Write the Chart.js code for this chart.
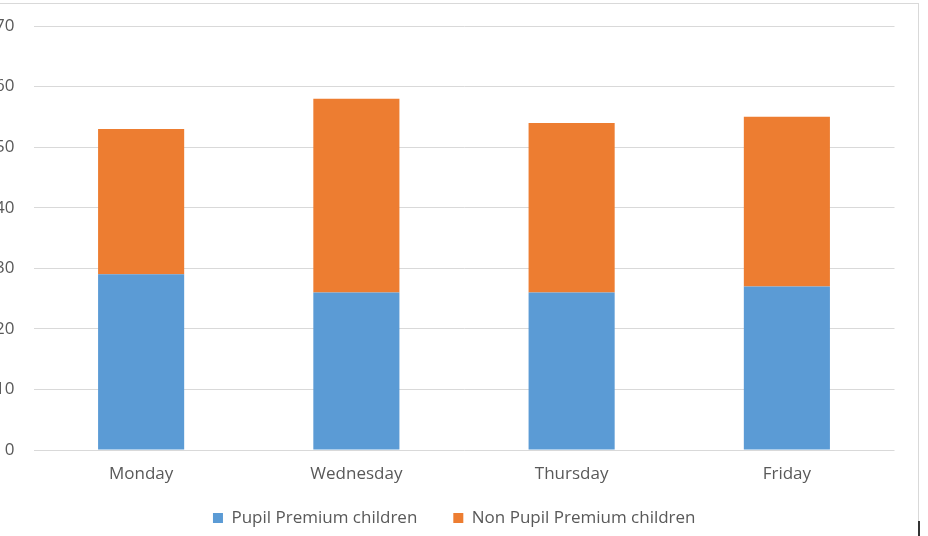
<!DOCTYPE html>
<html>
<head>
<meta charset="utf-8">
<script src="https://cdn.jsdelivr.net/npm/chart.js@4/dist/chart.umd.min.js"></script>
<style>
html,body{margin:0;padding:0;background:#fff;}
#wrap{position:relative;width:928px;height:536px;overflow:hidden;}
#frame{position:absolute;left:-2px;top:3px;width:921px;height:540px;border-top:1px solid #d9d9d9;border-right:1px solid #d9d9d9;box-sizing:border-box;}
#mark{position:absolute;left:918px;top:521px;width:2px;height:15px;background:#333;}
canvas{position:absolute;left:0;top:0;}
</style>
</head>
<body>
<div id="wrap">
<div id="frame"></div>
<canvas id="c" width="928" height="536"></canvas>
<div id="mark"></div>
</div>
<script>
const categories = ["Monday", "Wednesday", "Thursday", "Friday"];
const pupilPremium = [29, 26, 26, 27];
const nonPupilPremium = [24, 32, 28, 28];
const yTicks = [0, 10, 20, 30, 40, 50, 60, 70];

const FONT = "'Open Sans', sans-serif";
Chart.defaults.font.family = FONT;
Chart.defaults.color = '#595959';

const legendPlace = {
  id: 'legendPlace',
  afterLayout(chart) {
    const l = chart.legend;
    if (!l) return;
    l.top = 473.5; l.bottom = 536; l.height = l.bottom - l.top;
    l.left += 7; l.right += 7;
  }
};

new Chart(document.getElementById('c'), {
  type: 'bar',
  data: {
    labels: categories,
    datasets: [
      { label: 'Pupil Premium children', data: pupilPremium, backgroundColor: '#5B9BD5', borderWidth: 0,
        categoryPercentage: 1, barPercentage: 0.4 },
      { label: 'Non Pupil Premium children', data: nonPupilPremium, backgroundColor: '#ED7D31', borderWidth: 0,
        categoryPercentage: 1, barPercentage: 0.4 }
    ]
  },
  plugins: [legendPlace],
  options: {
    responsive: false,
    animation: false,
    devicePixelRatio: 1,
    layout: { padding: { left: 0, right: 33.5, top: 26, bottom: 0 } },
    plugins: {
      legend: {
        position: 'bottom',
        maxHeight: 37,
        labels: { boxWidth: 10, boxHeight: 10, padding: 36, font: { size: 17, family: FONT }, color: '#595959' }
      },
      tooltip: { enabled: false }
    },
    scales: {
      x: {
        stacked: true,
        grid: { display: false, drawTicks: false },
        border: { display: false },
        ticks: { font: { size: 17, family: FONT }, color: '#595959', padding: 13.5 },
        afterFit: s => { s.height = 49; }
      },
      y: {
        stacked: true,
        min: 0, max: 70,
        afterBuildTicks: s => { s.ticks = yTicks.map(v => ({ value: v })); },
        grid: { color: '#d9d9d9', lineWidth: 1, drawTicks: false },
        border: { display: false },
        ticks: { font: { size: 17, family: FONT }, color: '#595959', padding: 19 },
        afterFit: s => { s.width = 33.5; s.paddingTop = 0; s.paddingBottom = 0; }
      }
    }
  }
});
</script>
</body>
</html>
